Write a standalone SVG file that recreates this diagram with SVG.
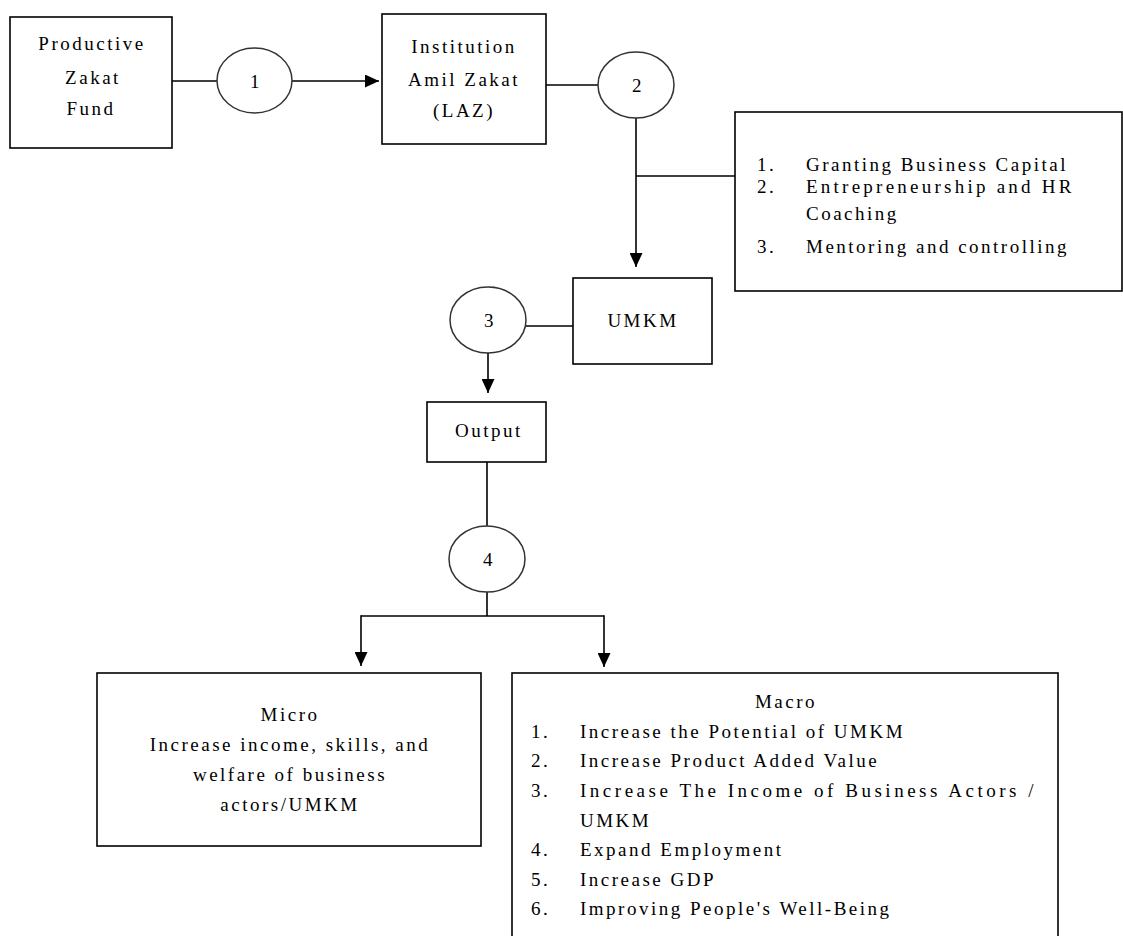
<svg xmlns="http://www.w3.org/2000/svg" width="1123" height="936" viewBox="0 0 1123 936">
<style>
  .box { fill: #ffffff; stroke: #000000; stroke-width: 1.6; }
  .circ { fill: #ffffff; stroke: #333333; stroke-width: 1.5; }
  .ln { fill: none; stroke: #000000; stroke-width: 1.6; }
  text { font-family: "Liberation Serif", "Times New Roman", serif; font-size: 19px; letter-spacing: 2.5px; fill: #000000; }
  .c { text-anchor: middle; }
</style>
<defs>
  <marker id="arr" markerUnits="userSpaceOnUse" markerWidth="15" markerHeight="13" refX="14" refY="6.5" orient="auto">
    <path d="M0,0 L14,6.5 L0,13 Z" fill="#000000"/>
  </marker>
</defs>
<rect width="1123" height="936" fill="#ffffff"/>

<g id="connectors">
  <line class="ln" x1="172" y1="81" x2="217" y2="81"/>
  <line class="ln" x1="292" y1="81" x2="379" y2="81" marker-end="url(#arr)"/>
  <line class="ln" x1="546" y1="85" x2="598" y2="85"/>
  <line class="ln" x1="636" y1="118" x2="636" y2="267" marker-end="url(#arr)"/>
  <line class="ln" x1="636" y1="176" x2="735" y2="176"/>
  <line class="ln" x1="526" y1="326" x2="573" y2="326"/>
  <line class="ln" x1="488" y1="353" x2="488" y2="393" marker-end="url(#arr)"/>
  <line class="ln" x1="487" y1="462" x2="487" y2="526"/>
  <line class="ln" x1="487" y1="592" x2="487" y2="616"/>
  <polyline class="ln" points="361,616 604,616"/>
  <line class="ln" x1="361" y1="615.2" x2="361" y2="666" marker-end="url(#arr)"/>
  <line class="ln" x1="604" y1="615.2" x2="604" y2="667" marker-end="url(#arr)"/>
</g>

<g id="node-pzf">
  <rect class="box" x="10" y="17" width="162" height="131"/>
  <text class="c" x="92" y="50">Productive</text>
  <text class="c" x="93" y="84">Zakat</text>
  <text class="c" x="91" y="115">Fund</text>
</g>

<g id="node-c1">
  <ellipse class="circ" cx="254.5" cy="80.5" rx="37.5" ry="32.5"/>
  <text class="c" x="256" y="88">1</text>
</g>

<g id="node-laz">
  <rect class="box" x="382" y="14" width="164" height="130"/>
  <text class="c" x="464" y="53">Institution</text>
  <text class="c" x="464" y="86">Amil Zakat</text>
  <text class="c" x="464" y="117">(LAZ)</text>
</g>

<g id="node-c2">
  <ellipse class="circ" cx="636" cy="85" rx="38" ry="33"/>
  <text class="c" x="638" y="92">2</text>
</g>

<g id="node-program">
  <rect class="box" x="735" y="112" width="387" height="179"/>
  <text x="757" y="171">1.</text>
  <text x="806" y="171">Granting Business Capital</text>
  <text x="757" y="193">2.</text>
  <text x="806" y="193" textLength="268" lengthAdjust="spacing">Entrepreneurship and HR</text>
  <text x="806" y="220">Coaching</text>
  <text x="757" y="253">3.</text>
  <text x="806" y="253">Mentoring and controlling</text>
</g>

<g id="node-c3">
  <ellipse class="circ" cx="488" cy="320" rx="38" ry="33"/>
  <text class="c" x="490" y="327">3</text>
</g>

<g id="node-umkm">
  <rect class="box" x="573" y="278" width="139" height="86"/>
  <text class="c" x="643" y="327">UMKM</text>
</g>

<g id="node-output">
  <rect class="box" x="427" y="402" width="119" height="60"/>
  <text class="c" x="489" y="437">Output</text>
</g>

<g id="node-c4">
  <ellipse class="circ" cx="487" cy="559" rx="38" ry="33"/>
  <text class="c" x="489" y="566">4</text>
</g>

<g id="node-micro">
  <rect class="box" x="97" y="673" width="384" height="173"/>
  <text class="c" x="290" y="721">Micro</text>
  <text class="c" x="290" y="751">Increase income, skills, and</text>
  <text class="c" x="290" y="781">welfare of business</text>
  <text class="c" x="290" y="811">actors/UMKM</text>
</g>

<g id="node-macro">
  <rect class="box" x="512" y="673" width="546" height="270"/>
  <text class="c" x="786" y="708">Macro</text>
  <text x="531" y="738">1.</text>
  <text x="580" y="738">Increase the Potential of UMKM</text>
  <text x="531" y="767">2.</text>
  <text x="580" y="767">Increase Product Added Value</text>
  <text x="531" y="797">3.</text>
  <text x="580" y="797" textLength="456" lengthAdjust="spacing">Increase The Income of Business Actors /</text>
  <text x="580" y="827">UMKM</text>
  <text x="531" y="856">4.</text>
  <text x="580" y="856">Expand Employment</text>
  <text x="531" y="886">5.</text>
  <text x="580" y="886">Increase GDP</text>
  <text x="531" y="915">6.</text>
  <text x="580" y="915">Improving People's Well-Being</text>
</g>
</svg>
